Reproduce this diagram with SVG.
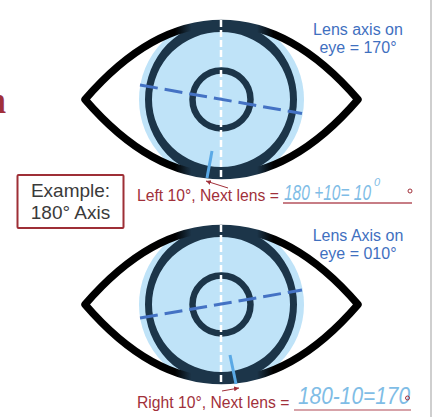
<svg xmlns="http://www.w3.org/2000/svg" width="435" height="417" viewBox="0 0 435 417">
  <style>
    text { font-family: "Liberation Sans", Arial, sans-serif; }
    .iris { fill: #bfe3f8; }
    .lid { fill: none; stroke: url(#lidTone); stroke-width: 7.5; stroke-linejoin: round; }
    .ring { fill: none; stroke: #1c3549; }
    .band { fill: #1c3549; fill-rule: evenodd; }
    .vert { stroke: #fff; stroke-width: 2.5; stroke-dasharray: 7 3; }
    .axis { stroke: #4472c4; stroke-width: 3; stroke-dasharray: 18 7; }
    .mark { stroke: #5aa9e6; stroke-width: 3; }
    .tip { stroke: #a1303a; stroke-width: 1; fill: none; marker-end: url(#head); }
    .blue { fill: #3f70bf; font-size: 16px; text-anchor: middle; }
    .red { fill: #a1303a; font-size: 15.7px; }
    .hand { fill: #7fbde6; font-style: italic; }
    .rule { stroke: #b5525c; stroke-width: 1.5; }
    .deg { fill: none; stroke: #a1303a; stroke-width: 1; }
  </style>
  <defs>
    <path id="lidShape" d="M85 99.5C126 52 172 23.5 221.5 23.5C271 23.5 317 52 358 99.5C317 147 271 175.5 221.5 175.5C172 175.5 126 147 85 99.5Z"/>
    <clipPath id="lidClip"><use href="#lidShape"/></clipPath>
    <!-- lid line turns from black to the ring colour where the two meet -->
    <linearGradient id="lidTone" gradientUnits="userSpaceOnUse" x1="85" y1="0" x2="358" y2="0">
      <stop offset="0.33" stop-color="#000"/>
      <stop offset="0.39" stop-color="#1c3549"/>
      <stop offset="0.63" stop-color="#1c3549"/>
      <stop offset="0.69" stop-color="#000"/>
    </linearGradient>
    <marker id="head" markerWidth="6" markerHeight="6" refX="5" refY="2.5" orient="auto">
      <path d="M0 0L5 2.5L0 5Z" fill="#a1303a"/>
    </marker>
    <g id="eyeball">
      <use href="#lidShape" fill="#fff"/>
      <circle class="iris" cx="221.5" cy="99.5" r="82.5" clip-path="url(#lidClip)"/>
      <path class="band" clip-path="url(#lidClip)" d="M145 99.5A76 78 0 1 1 297 99.5A76 78 0 1 1 145 99.5ZM152 99.5A69 67.5 0 1 0 290 99.5A69 67.5 0 1 0 152 99.5Z"/>
      <use href="#lidShape" class="lid"/>
      <circle class="ring" cx="221.5" cy="99.5" r="29" stroke-width="6.5"/>
      <line class="vert" x1="221" y1="20" x2="221" y2="179"/>
    </g>
  </defs>

  <rect x="0" y="0" width="435" height="417" fill="#fff"/>
  <rect x="430" y="0" width="2" height="417" fill="#cfcfcf"/>
  <text x="-15" y="113" font-size="38" font-weight="700" fill="#a1303a" style="font-family:'Liberation Serif',serif">n</text>

  <g id="eye-top">
    <use href="#eyeball"/>
  </g>
  <g id="eye-bottom">
    <use href="#eyeball" y="205"/>
  </g>

  <g id="connectors">
    <line class="axis" x1="140" y1="85" x2="302" y2="113.5"/>
    <line class="mark" x1="212" y1="151" x2="207" y2="178"/>
    <line class="tip" x1="228" y1="188" x2="206" y2="181"/>
    <line class="axis" x1="140" y1="318" x2="302" y2="290"/>
    <line class="mark" x1="230" y1="355" x2="236" y2="384"/>
    <line class="tip" x1="222" y1="391" x2="239" y2="388"/>
  </g>

  <g id="example">
    <rect x="17.5" y="175" width="106" height="53" rx="1" fill="#fff" stroke="#9e2f36" stroke-width="2"/>
    <text x="70.5" y="196.5" font-size="19" text-anchor="middle" fill="#3a3a3a">Example:</text>
    <text x="70.5" y="218.5" font-size="19" text-anchor="middle" fill="#3a3a3a">180° Axis</text>
  </g>

  <g id="note-top">
    <text class="blue" x="358" y="35">Lens axis on</text>
    <text class="blue" x="358" y="53">eye = 170°</text>
    <text class="red" x="137" y="201">Left 10°, Next lens =</text>
    <text class="hand" x="284" y="200" font-size="22" textLength="87" lengthAdjust="spacingAndGlyphs">180 +10= 10</text>
    <text class="hand" x="374" y="186" font-size="11">0</text>
    <circle class="deg" cx="410" cy="191" r="2"/>
    <line class="rule" x1="283" y1="203" x2="412" y2="203"/>
  </g>

  <g id="note-bottom">
    <text class="blue" x="358" y="241">Lens Axis on</text>
    <text class="blue" x="358" y="259">eye = 010°</text>
    <text class="red" x="137" y="408">Right 10°, Next lens =</text>
    <text class="hand" x="298" y="404" font-size="24" textLength="112" lengthAdjust="spacingAndGlyphs">180-10=170</text>
    <circle class="deg" cx="407.5" cy="398" r="2"/>
    <line class="rule" x1="294" y1="410" x2="411" y2="410" opacity="0.7"/>
  </g>
</svg>
